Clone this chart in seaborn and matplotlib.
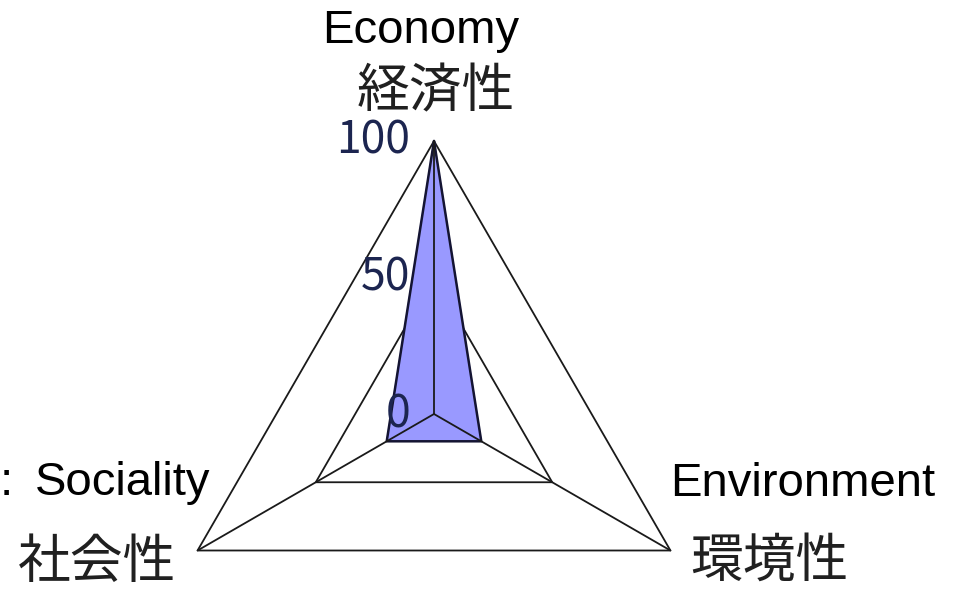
import numpy as np
import matplotlib
matplotlib.use('Agg')
import matplotlib.pyplot as plt
import seaborn as sns

sns.set_theme(style='white')

W, H = 961, 591

CATEGORIES_JA = ['経済性', '環境性', '社会性']
CATEGORIES_EN = ['Economy', 'Environment', 'Sociality']
VALUES = [100, 20, 20]
RING_LEVELS = [50, 100]
TICK_VALUES = [0, 50, 100]
TICK_LABELS = ['0', '50', '100']

JA_FONT = ['Noto Sans CJK JP', 'DejaVu Sans']
EN_FONT = ['Liberation Sans', 'DejaVu Sans']

theta = np.linspace(0, 2 * np.pi, len(CATEGORIES_JA), endpoint=False)
theta_closed = np.append(theta, theta[0] + 2 * np.pi)

fig = plt.figure(figsize=(W / 100, H / 100), dpi=100)
# centre of the web at (434, 414) px, outer radius 273 px
cx, cy, R = 434, 414, 273
ax = fig.add_axes([(cx - R) / W, (H - cy - R) / H, 2 * R / W, 2 * R / H], projection='polar')
ax.set_theta_offset(np.pi / 2)
ax.set_theta_direction(-1)
ax.set_ylim(0, 100)
ax.set_axis_off()

# triangular grid rings
for lvl in RING_LEVELS:
    sns.lineplot(x=theta_closed, y=[lvl] * len(theta_closed), sort=False, estimator=None,
                 color='#1a1a1a', lw=1.3, ax=ax, zorder=1, clip_on=False)

# data polygon
vals_closed = VALUES + VALUES[:1]
ax.fill(theta_closed, vals_closed, color='#9999ff', zorder=2, clip_on=False)
sns.lineplot(x=theta_closed, y=vals_closed, sort=False, estimator=None,
             color='#141432', lw=1.8, ax=ax, zorder=3, clip_on=False)

# spokes drawn over the fill
for t in theta:
    ax.plot([t, t], [0, 100], color='#1a1a1a', lw=1.3, zorder=4, clip_on=False)

# value labels along the top spoke
for v, lab in zip(TICK_VALUES, TICK_LABELS):
    ax.annotate(lab, xy=(0, v), xytext=(-24, 0), textcoords='offset pixels',
                ha='right', va='center', fontsize=32, color='#1c2550',
                family=JA_FONT, annotation_clip=False, zorder=5)

def ftext(x, y, s, **kw):
    fig.text(x / W, 1 - y / H, s, **kw)

# category labels
ja_kw = dict(ha='center', va='center', fontsize=38, color='#202020', family=JA_FONT)
ftext(421, 43, CATEGORIES_EN[0], ha='center', va='baseline', fontsize=34, color='black', family=EN_FONT)
ftext(436, 92, CATEGORIES_JA[0], **ja_kw)
ftext(670, 496, CATEGORIES_EN[1], ha='left', va='baseline', fontsize=34, color='black', family=EN_FONT)
ftext(769, 561, CATEGORIES_JA[1], **ja_kw)
ftext(35, 495, CATEGORIES_EN[2], ha='left', va='baseline', fontsize=34, color='black', family=EN_FONT)
ftext(97, 562, CATEGORIES_JA[2], **ja_kw)
# colon at the left edge
ftext(0, 495, ':', ha='left', va='baseline', fontsize=34, color='black', family=EN_FONT)

fig.savefig('out.png', dpi=100, facecolor='white')
